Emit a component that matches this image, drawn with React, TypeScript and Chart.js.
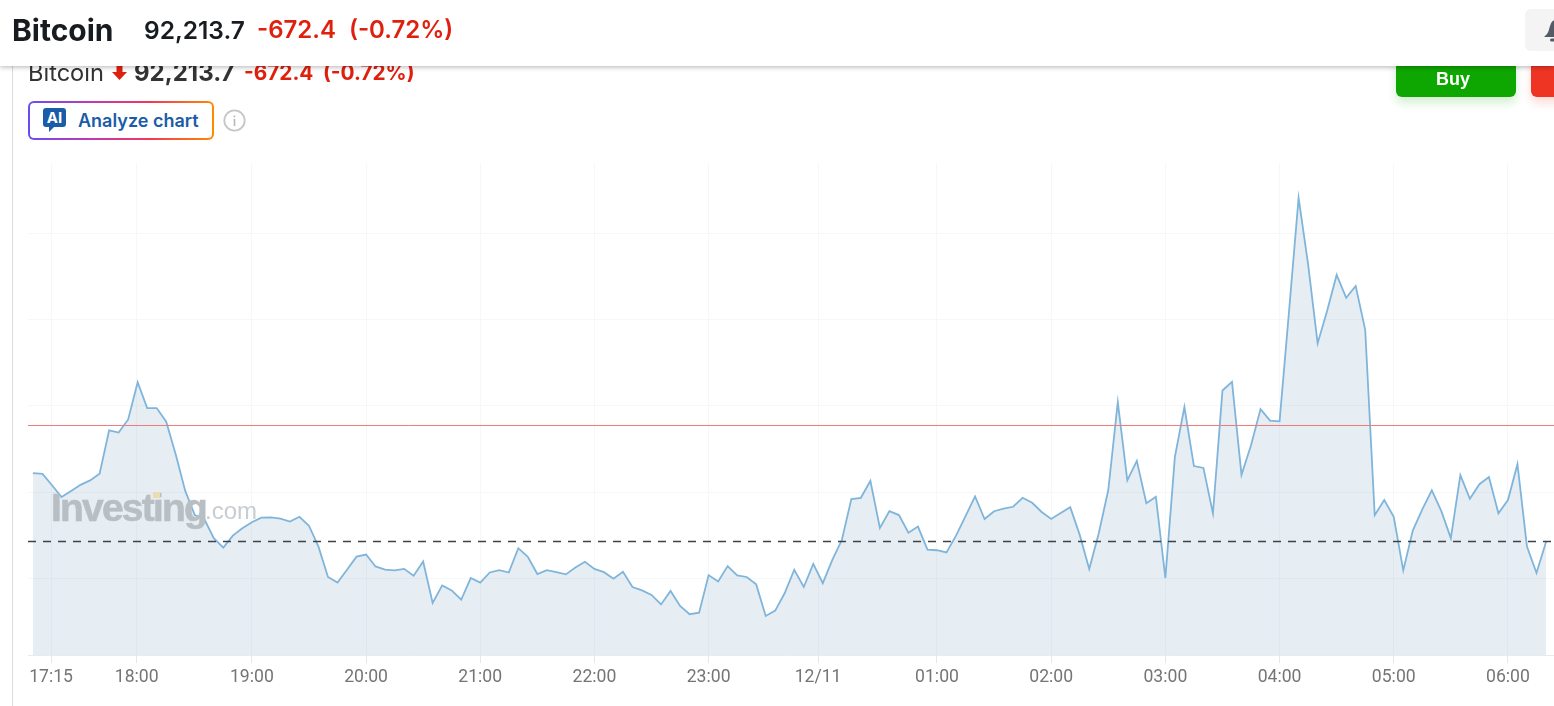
import React, { useEffect, useRef } from "react";
import { Chart, registerables } from "chart.js";

Chart.register(...registerables);

const prices = [
  92610, 92606, 92540, 92471, 92506, 92542, 92568, 92606, 92858, 92845, 92921, 93137, 92987, 92987, 92908, 92718,
  92507, 92367, 92344, 92233, 92178, 92248, 92290, 92325, 92352, 92354, 92346, 92329, 92357, 92305, 92184, 92008,
  91976, 92050, 92126, 92138, 92069, 92051, 92046, 92055, 92015, 92098, 91857, 91959, 91930, 91876, 92002, 91975,
  92034, 92048, 92034, 92175, 92125, 92025, 92048, 92036, 92023, 92063, 92096, 92055, 92036, 91998, 92038, 91950,
  91930, 91904, 91849, 91927, 91840, 91792, 91801, 92019, 91982, 92071, 92017, 92008, 91965, 91782, 91813, 91915,
  92050, 91950, 92084, 91972, 92107, 92222, 92460, 92467, 92565, 92292, 92390, 92367, 92265, 92300, 92167, 92163,
  92150, 92248, 92361, 92475, 92344, 92389, 92404, 92415, 92467, 92438, 92385, 92344, 92379, 92413, 92252, 92054,
  92262, 92512, 93021, 92568, 92681, 92435, 92473, 92002, 92704, 92993, 92651, 92640, 92377, 93089, 93139, 92600,
  92771, 92981, 92914, 92910, 93551, 94205, 93820, 93362, 93551, 93759, 93626, 93695, 93441, 92366, 92454, 92357,
  92046, 92277, 92400, 92510, 92390, 92233, 92598, 92461, 92546, 92587, 92377, 92454, 92662, 92184, 92031, 92211,
];
const minutesPerPoint = 5;
const xTickMinutes = [9.5, 54.5, 115, 175, 235, 295, 355, 412.5, 475, 535, 595, 655, 715, 775];
const xTickLabels = ["17:15", "18:00", "19:00", "20:00", "21:00", "22:00", "23:00", "12/11", "01:00", "02:00", "03:00", "04:00", "05:00", "06:00"];
const yTicks = [92000, 92500, 93000, 93500, 94000];
const previousClose = 92886.1;
const lastPrice = 92213.7;

const XMIN = -2.625;
const XMAX = 799.2;
const YMIN = 91555.8;
const YMAX = 94407.6;

const abs = (left: number, top: number, extra: React.CSSProperties = {}): React.CSSProperties => ({
  position: "absolute",
  left,
  top,
  whiteSpace: "nowrap",
  ...extra,
});

export default function App() {
  const ref = useRef<HTMLCanvasElement>(null);

  useEffect(() => {
    document.body.style.overflow = "hidden";
    const chart = new Chart(ref.current!, {
      type: "line",
      data: {
        datasets: [
          {
            label: "Bitcoin",
            data: prices.map((y, i) => ({ x: i * minutesPerPoint, y })),
            borderColor: "#80b5db",
            borderWidth: 1.8,
            backgroundColor: "rgba(90,140,175,0.15)",
            fill: "start",
            tension: 0,
            pointRadius: 0,
            order: 3,
          },
          {
            label: "Previous close",
            data: [{ x: XMIN, y: previousClose }, { x: XMAX, y: previousClose }],
            borderColor: "#ee7b7b",
            borderWidth: 1,
            pointRadius: 0,
            fill: false,
            order: 2,
          },
          {
            label: "Last",
            data: [{ x: XMIN, y: lastPrice }, { x: XMAX, y: lastPrice }],
            borderColor: "#3c4248",
            borderWidth: 1.3,
            borderDash: [8, 7],
            pointRadius: 0,
            fill: false,
            order: 1,
          },
        ],
      },
      options: {
        animation: false,
        responsive: false,
        layout: { padding: { left: 28, right: 0, top: 163, bottom: 0 } },
        plugins: { legend: { display: false }, tooltip: { enabled: false } },
        scales: {
          x: {
            type: "linear",
            min: XMIN,
            max: XMAX,
            afterBuildTicks: (s: any) => {
              s.ticks = xTickMinutes.map((value) => ({ value }));
            },
            afterFit: (s: any) => {
              s.height = 51;
            },
            grid: { color: "#f6f7f8", lineWidth: 1, tickLength: 8, tickColor: "#e6e8ea" },
            border: { color: "#e8eaec", display: true },
            ticks: {
              autoSkip: false,
              maxRotation: 0,
              padding: 4,
              color: "#757575",
              font: { family: "Roboto", size: 17.6 },
              callback: (_v: any, i: number) => xTickLabels[i],
            },
          },
          y: {
            min: YMIN,
            max: YMAX,
            afterBuildTicks: (s: any) => {
              s.ticks = yTicks.map((value) => ({ value }));
            },
            afterFit: (s: any) => {
              s.width = 0;
            },
            grid: { color: "#f6f7f8", lineWidth: 1, drawTicks: false },
            border: { display: false },
            ticks: { display: false },
          },
        },
      },
    });
    return () => chart.destroy();
  }, []);

  const inter = "Inter, 'Noto Sans', sans-serif";
  return (
    <div style={{ position: "absolute", left: 0, top: 0, width: 1554, height: 706, overflow: "hidden", background: "#fff", fontFamily: inter }}>
      <div style={{ position: "absolute", left: 12, top: 60, width: 1, height: 646, background: "#dcdcdc" }} />
      <canvas ref={ref} width={1554} height={706} style={{ position: "absolute", left: 0, top: 0, width: 1554, height: 706 }} />

      {/* second row */}
      <span style={abs(28, 59, { fontSize: 23.6, lineHeight: "28px", color: "#333" })}>Bitcoin</span>
      <svg style={abs(112, 65)} width="15" height="15" viewBox="0 0 15 15">
        <path d="M4.5 0h6v7H15L7.5 15 0 7h4.5z" fill="#e0200f" />
      </svg>
      <span style={abs(134, 59, { fontSize: 24, lineHeight: "28px", fontWeight: 700, color: "#333" })}>92,213.7</span>
      <span style={abs(244, 59, { fontSize: 20.8, lineHeight: "28px", fontWeight: 700, color: "#e0200f" })}>-672.4</span>
      <span style={abs(323, 59, { fontSize: 20.8, lineHeight: "28px", fontWeight: 700, color: "#e0200f" })}>(-0.72%)</span>

      {/* buy / sell */}
      <div style={abs(1396, 50, { width: 120, height: 47, background: "#0ea600", borderRadius: 6, boxShadow: "0 6px 10px rgba(14,166,0,0.18)", color: "#fff", fontFamily: "'Liberation Sans', sans-serif", fontWeight: 700, fontSize: 18, paddingRight: 6, boxSizing: "border-box", textAlign: "center", lineHeight: "58px" })}>Buy</div>
      <div style={abs(1531, 50, { width: 60, height: 47, background: "#ee3524", borderRadius: 6, boxShadow: "0 6px 10px rgba(238,53,36,0.18)" })} />

      {/* analyze chart */}
      <div style={abs(28, 101, { width: 186, height: 39, borderRadius: 6, padding: 2, boxSizing: "border-box", background: "linear-gradient(90deg,#6a4cf5,#c03ab0 35%,#f5355a 65%,#ff8a00)" })}>
        <div style={{ width: "100%", height: "100%", background: "#fff", borderRadius: 4 }} />
      </div>
      <svg style={abs(43, 108)} width="23" height="25" viewBox="0 0 23 25">
        <path d="M3 0h17a3 3 0 0 1 3 3v13a3 3 0 0 1-3 3h-9l-5 5v-5H3a3 3 0 0 1-3-3V3a3 3 0 0 1 3-3z" fill="#1a5ca8" />
        <text x="11.5" y="15" textAnchor="middle" fontFamily={inter} fontWeight="700" fontSize="15" fill="#fff">AI</text>
      </svg>
      <span style={abs(78, 109, { fontSize: 18, lineHeight: "24px", fontWeight: 600, color: "#1a5ca8" })}>Analyze chart</span>
      <svg style={abs(223, 109)} width="23" height="23" viewBox="0 0 23 23">
        <circle cx="11.5" cy="11.5" r="10.2" fill="none" stroke="#c4c6c9" strokeWidth="1.8" />
        <rect x="10.7" y="10" width="1.6" height="7" fill="#b5b7ba" />
        <rect x="10.7" y="6.5" width="1.6" height="1.8" fill="#b5b7ba" />
      </svg>

      {/* watermark */}
      <span style={abs(51, 488, { fontFamily: "'Liberation Sans', sans-serif", fontSize: 39, lineHeight: "40px", fontWeight: 700, letterSpacing: -1.8, color: "#b8bfc3", WebkitTextStroke: "0.6px #b8bfc3" })}>Investing</span>
      <span style={abs(205, 496, { fontFamily: "'Liberation Sans', sans-serif", fontSize: 24, lineHeight: "30px", color: "#c9cdd0" })}>.com</span>
      <div style={abs(153, 492, { width: 7, height: 6, background: "#ecdcb4" })} />

      {/* fixed header */}
      <div style={{ position: "absolute", left: 0, top: 0, width: 1554, height: 66, background: "#fff", boxShadow: "0 1px 5px rgba(0,0,0,0.3)" }}>
        <span style={abs(12, 12, { fontSize: 30, lineHeight: "36px", fontWeight: 700, color: "#181c21" })}>Bitcoin</span>
        <span style={abs(144, 13, { fontSize: 24.5, lineHeight: "34px", fontWeight: 600, color: "#181c21" })}>92,213.7</span>
        <span style={abs(257, 13, { fontSize: 24, lineHeight: "34px", fontWeight: 600, color: "#e0200f" })}>-672.4</span>
        <span style={abs(349, 13, { fontSize: 24, lineHeight: "34px", fontWeight: 600, color: "#e0200f" })}>(-0.72%)</span>
        <div style={abs(1525, 9, { width: 60, height: 42, background: "#f4f4f5", borderRadius: 6 })} />
        <svg style={abs(1543, 18)} width="24" height="26" viewBox="0 0 24 26">
          <path d="M12 2c4 0 6 3 6 7v6l3 4H1l3-3c2-3 2-5 3-8 1-4 3-6 5-6z" fill="#555b66" />
          <rect x="7" y="20.5" width="10" height="3" rx="1.5" fill="#555b66" />
        </svg>
      </div>
    </div>
  );
}
